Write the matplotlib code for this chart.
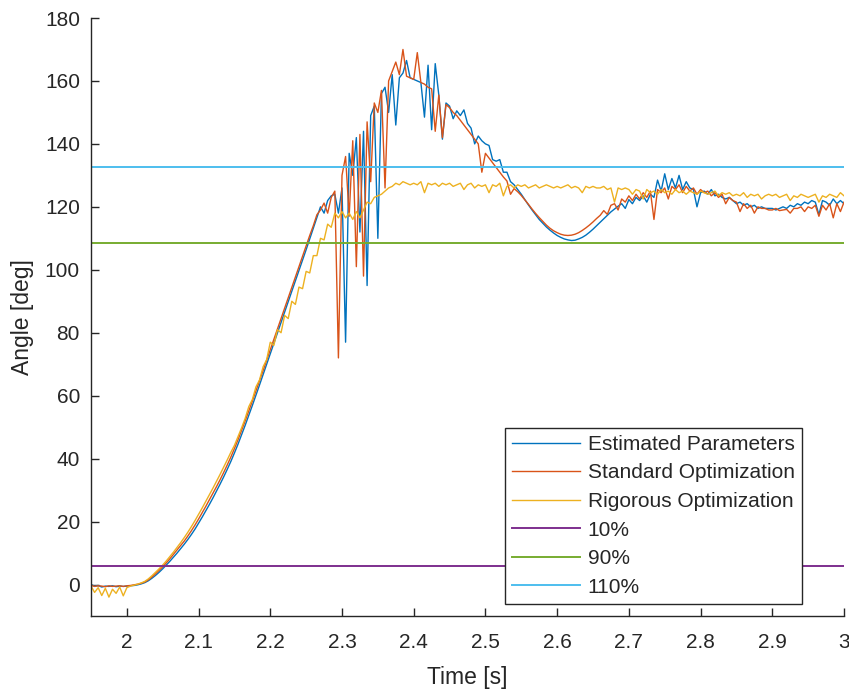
import numpy as np
import matplotlib
matplotlib.use("Agg")
import matplotlib.pyplot as plt

plt.rcParams['font.family'] = ['Liberation Sans', 'DejaVu Sans']

# Sample times: 5 ms grid from 1.95 s to 3.00 s
t_start, t_step, n_samples = 1.95, 0.005, 211
time = np.round(t_start + t_step * np.arange(n_samples), 3)

estimated = [
    0.0, -0.5, -0.3, -0.8, -0.5, -0.6, -0.4, -0.7, -0.5, -0.6,
    -0.5, -0.4, -0.3, -0.1, 0.2, 0.6, 1.2, 2.0, 2.9, 3.9,
    5.0, 6.2, 7.4, 8.7, 10.0, 11.4, 12.8, 14.3, 15.9, 17.6,
    19.5, 21.4, 23.4, 25.4, 27.5, 29.7, 31.9, 34.2, 36.6, 39.1,
    41.8, 44.6, 47.6, 50.6, 53.7, 56.9, 60.1, 63.4, 66.7, 70.0,
    73.3, 76.6, 79.9, 83.2, 86.5, 89.8, 93.1, 96.4, 99.7, 103.0,
    106.4, 109.8, 113.2, 116.5, 120.0, 118.0, 122.0, 123.5, 124.0, 118.0,
    126.0, 77.0, 137.0, 130.0, 142.0, 112.0, 144.0, 95.0, 149.0, 152.0,
    110.0, 156.0, 158.0, 150.0, 162.0, 146.0, 161.0, 162.5, 166.5, 161.0,
    160.5, 160.0, 159.5, 148.5, 165.0, 144.5, 165.5, 155.5, 141.5, 153.0,
    152.0, 148.0, 150.5, 149.0, 150.8, 146.5, 145.0, 140.0, 142.5, 141.0,
    140.0, 139.5, 135.0, 134.5, 135.0, 131.0, 131.0, 128.0, 127.0, 125.5,
    124.0, 122.3, 120.6, 119.0, 117.5, 116.0, 114.8, 113.6, 112.6, 111.7,
    110.9, 110.3, 109.8, 109.5, 109.3, 109.4, 109.8, 110.3, 111.0, 111.9,
    112.9, 114.0, 115.1, 116.2, 117.3, 118.4, 119.3, 120.2, 121.0, 119.5,
    122.3, 121.0, 123.0, 122.0, 123.5, 121.5, 124.0, 123.0, 128.5, 125.0,
    130.5, 125.5, 129.0, 126.0, 130.0, 125.5, 128.0, 126.0, 125.5, 120.0,
    124.5, 125.0, 124.0, 125.5, 123.5, 124.0, 123.0, 122.5, 123.0, 122.0,
    121.0, 121.5, 120.5, 121.0, 120.0, 120.5, 119.5, 120.0, 119.5, 119.5,
    119.5, 119.0, 119.5, 120.0, 119.5, 120.5, 120.0, 121.0, 120.5, 121.5,
    121.0, 122.0, 121.5, 117.5, 122.0, 121.5, 120.5, 122.5, 121.0, 122.0,
    121.0,
]

standard = [
    -0.2, -0.6, -0.4, -0.5, -0.7, -0.4, -0.6, -0.5, -0.4, -0.6,
    -0.4, -0.3, -0.1, 0.1, 0.4, 0.8, 1.5, 2.4, 3.4, 4.5,
    5.6, 6.9, 8.2, 9.6, 11.0, 12.4, 13.8, 15.4, 17.1, 18.9,
    20.8, 22.8, 24.8, 26.9, 29.0, 31.1, 33.3, 35.6, 38.0, 40.5,
    43.2, 46.0, 49.0, 52.0, 55.1, 58.3, 61.5, 64.7, 68.0, 71.3,
    74.6, 77.9, 81.2, 84.5, 87.8, 91.1, 94.4, 97.7, 101.0, 104.3,
    107.6, 110.9, 114.0, 117.5, 119.0, 121.2, 118.0, 123.0, 125.0, 72.0,
    130.0, 136.0, 117.0, 141.0, 101.0, 143.0, 98.0, 147.0, 128.0, 153.0,
    150.0, 157.0, 126.0, 160.0, 163.0, 166.0, 162.0, 170.0, 161.5, 161.0,
    160.5, 169.0, 159.5, 159.0, 158.0, 157.5, 144.0, 155.5, 142.0, 152.5,
    151.5, 150.0, 149.0, 147.5, 146.0, 144.5, 143.0, 141.5, 140.0, 131.0,
    137.0, 135.5, 134.0, 132.5, 131.0, 129.5, 128.2, 124.0, 125.8, 124.8,
    123.6, 122.2, 120.8, 119.3, 117.9, 116.6, 115.4, 114.2, 113.2, 112.4,
    111.8, 111.3, 111.0, 110.9, 111.0, 111.3, 111.8, 112.5, 113.3, 114.2,
    115.2, 116.3, 117.3, 118.8, 117.6, 120.5, 121.0, 119.0, 122.5, 121.5,
    123.5, 122.0, 124.0, 122.5, 124.5, 123.0, 125.0, 116.0, 125.5, 124.5,
    126.0, 122.5, 126.5, 125.5, 127.0, 124.5, 126.5, 125.0, 126.0, 124.0,
    125.5, 124.5, 125.0, 123.5, 124.5, 123.0, 124.0, 121.0, 123.0, 122.0,
    121.5, 118.5, 121.0, 119.5, 120.5, 118.0, 120.0, 119.5, 119.5, 119.0,
    119.0, 119.5, 118.8, 119.0, 119.2, 118.0, 119.5, 119.5, 120.0, 118.5,
    120.0, 119.5, 120.5, 117.0, 120.5, 119.0, 121.0, 116.5, 121.0, 118.5,
    121.5,
]

rigorous = [
    -0.5, -2.5, -1.0, -3.5, -1.2, -4.0, -1.5, -2.8, -0.8, -3.6,
    -1.0, -0.5, -0.2, 0.1, 0.5, 1.0, 1.8, 2.8, 3.9, 5.0,
    6.2, 7.5, 8.9, 10.3, 11.8, 13.3, 14.9, 16.6, 18.4, 20.3,
    22.3, 24.3, 26.4, 28.5, 30.6, 32.8, 35.0, 37.3, 39.6, 42.0,
    44.2, 47.0, 49.8, 52.8, 56.5, 58.8, 62.8, 65.0, 69.2, 71.5,
    77.0, 76.0, 81.0, 80.0, 85.5, 84.5, 90.0, 89.0, 94.5, 94.0,
    99.5, 99.0, 104.5, 104.5, 110.0, 109.5, 114.5, 113.5, 118.0, 116.5,
    118.5, 116.5, 118.0, 116.0, 118.5, 116.5, 119.0, 121.5, 121.0, 123.0,
    123.5, 124.0, 125.0, 126.0, 126.5, 127.5, 127.0, 128.0, 127.5, 127.0,
    127.5, 127.0, 128.0, 124.5, 127.5, 127.0, 127.5, 126.5, 127.5, 127.0,
    127.5, 126.5, 127.0, 127.5, 125.5, 127.0, 127.5, 126.0, 127.0, 126.5,
    127.0, 124.5, 127.0, 126.5, 127.5, 123.5, 126.5, 127.0, 126.0, 127.0,
    126.5, 127.0, 126.0, 126.5, 127.0, 126.0, 126.5, 127.0, 126.5, 126.0,
    126.5, 126.0, 126.5, 127.0, 126.0, 126.5, 126.0, 124.5, 126.5, 126.0,
    126.5, 126.0, 126.0, 126.5, 125.5, 126.0, 121.5, 126.0, 125.5, 126.0,
    125.5, 124.0, 125.5, 125.0, 122.5, 125.5, 124.5, 125.0, 124.0, 125.5,
    124.5, 125.0, 124.0, 125.5, 124.5, 125.0, 124.0, 125.0, 124.5, 124.0,
    125.0, 124.5, 124.0, 124.5, 125.0, 123.5, 124.5, 124.0, 124.5, 123.5,
    124.0, 123.5, 124.5, 123.0, 124.0, 123.5, 124.0, 122.5, 123.5, 124.0,
    123.5, 124.0, 123.0, 123.5, 124.0, 122.0, 123.5, 123.0, 124.0, 123.5,
    123.0, 123.5, 124.0, 121.5, 123.5, 123.0, 124.0, 123.5, 123.0, 124.5,
    123.5,
]

series_labels = ["Estimated Parameters", "Standard Optimization", "Rigorous Optimization"]
series_colors = ["#0072BD", "#D95319", "#EDB120"]

# Rise-time / settling reference levels
ref_labels = ["10%", "90%", "110%"]
ref_levels = [6.0, 108.5, 132.5]
ref_colors = ["#7E2F8E", "#77AC30", "#4DBEEE"]

x_ticks = [2.0, 2.1, 2.2, 2.3, 2.4, 2.5, 2.6, 2.7, 2.8, 2.9, 3.0]
x_ticklabels = ["2", "2.1", "2.2", "2.3", "2.4", "2.5", "2.6", "2.7", "2.8", "2.9", "3"]
y_ticks = [0, 20, 40, 60, 80, 100, 120, 140, 160, 180]

fig = plt.figure(figsize=(8.49, 6.94), dpi=100)
ax = fig.add_axes([91 / 849, 78 / 694, 753 / 849, 598 / 694])

for values, label, color in zip([estimated, standard, rigorous], series_labels, series_colors):
    ax.plot(time, values, color=color, lw=1.0, label=label)

for level, label, color in zip(ref_levels, ref_labels, ref_colors):
    ax.axhline(level, color=color, lw=1.4, label=label)

ax.set_xlim(1.95, 3.0)
ax.set_ylim(-10, 180)
ax.set_xticks(x_ticks)
ax.set_xticklabels(x_ticklabels)
ax.set_yticks(y_ticks)

axis_gray = "#262626"
for side in ("top", "right"):
    ax.spines[side].set_visible(False)
for side in ("left", "bottom"):
    ax.spines[side].set_color(axis_gray)
    ax.spines[side].set_linewidth(1.0)
ax.tick_params(direction="in", length=6, width=1.0, colors=axis_gray, labelsize=15)
ax.tick_params(axis="x", pad=12)
ax.tick_params(axis="y", pad=8)

ax.set_xlabel("Time [s]", fontsize=16.5, color=axis_gray, labelpad=10)
ax.set_ylabel("Angle [deg]", fontsize=16.5, color=axis_gray, labelpad=8)

leg = ax.legend(loc="lower right", bbox_to_anchor=(0.944, 0.02), borderaxespad=0,
                fontsize=15, frameon=True, fancybox=False, framealpha=1,
                edgecolor="#262626", handlelength=3.27, handletextpad=0.34,
                labelspacing=0.46, borderpad=0.35)
leg.get_frame().set_linewidth(1.0)
for txt in leg.get_texts():
    txt.set_color(axis_gray)

fig.savefig("out.png", dpi=100)
